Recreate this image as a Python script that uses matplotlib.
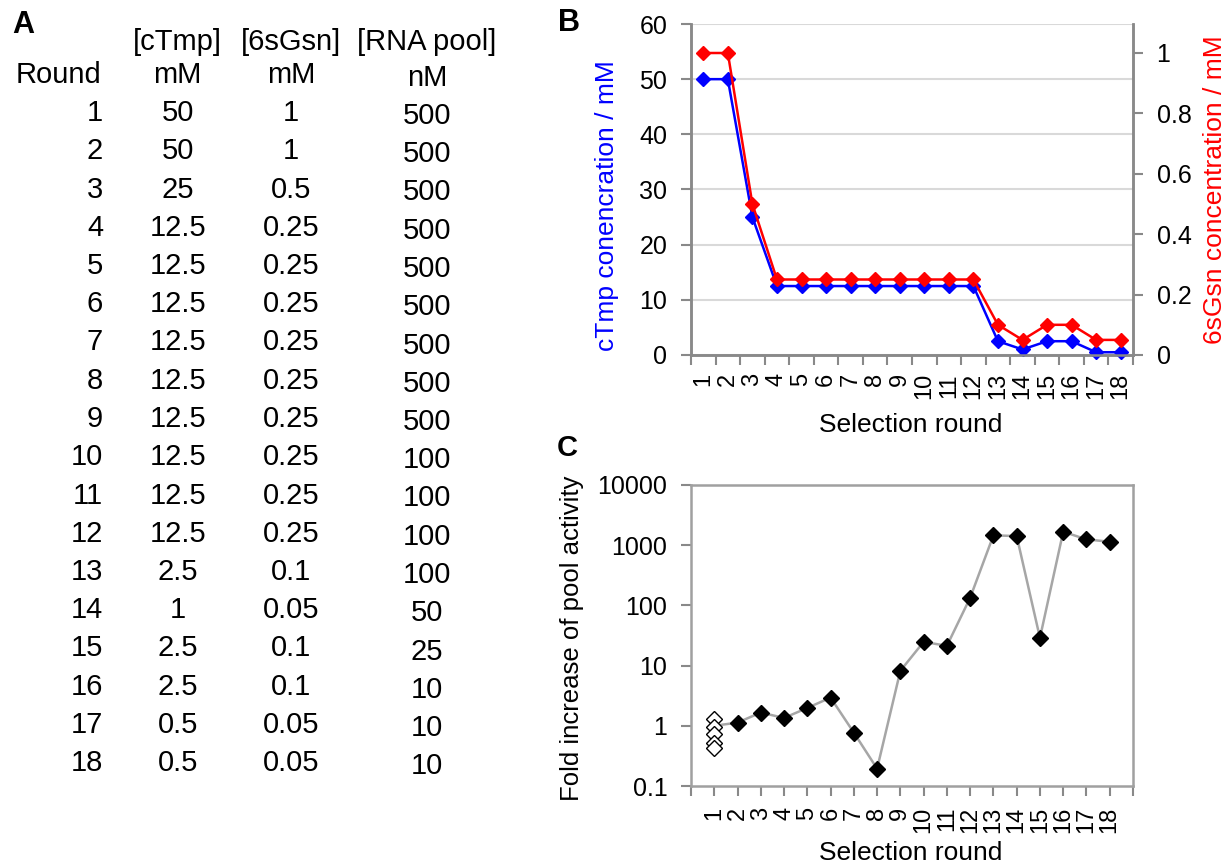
import numpy as np
import matplotlib
matplotlib.use("Agg")
import matplotlib.pyplot as plt
from matplotlib.ticker import FixedLocator, NullLocator, FuncFormatter

plt.rcParams['font.family'] = ['Liberation Sans', 'DejaVu Sans']

# selection conditions per round
rounds = list(range(1, 19))
ctmp_mM = [50, 50, 25, 12.5, 12.5, 12.5, 12.5, 12.5, 12.5, 12.5, 12.5, 12.5, 2.5, 1, 2.5, 2.5, 0.5, 0.5]
sgsn_mM = [1, 1, 0.5, 0.25, 0.25, 0.25, 0.25, 0.25, 0.25, 0.25, 0.25, 0.25, 0.1, 0.05, 0.1, 0.1, 0.05, 0.05]
rna_pool_nM = [500, 500, 500, 500, 500, 500, 500, 500, 500, 100, 100, 100, 100, 50, 25, 10, 10, 10]

# fold increase of pool activity
fold_increase = [1.0, 1.13, 1.66, 1.35, 1.98, 2.94, 0.77, 0.194, 8.2, 24.8, 21.3, 134,
                 1456, 1419, 28.9, 1675, 1248, 1142]
round1_replicates = [1.32, 0.96, 0.74, 0.52, 0.42]

W, H = 1230, 865
fig = plt.figure(figsize=(W / 100, H / 100), dpi=100)


def fx(x):
    return x / W


def fy(y):
    return 1 - y / H


GRAY = '#898989'
TICK_FS = 18

# ---------------- panel A: table ----------------
TS = 21
fig.text(fx(12), fy(25), 'A', fontsize=22, fontweight='bold', ha='left', va='center')
fig.text(fx(177), fy(42), '[cTmp]', fontsize=TS, ha='center', va='center')
fig.text(fx(291), fy(42), '[6sGsn]', fontsize=TS, ha='center', va='center')
fig.text(fx(427), fy(42), '[RNA pool]', fontsize=TS, ha='center', va='center')
fig.text(fx(58), fy(75), 'Round', fontsize=TS, ha='center', va='center')
fig.text(fx(177), fy(75), 'mM', fontsize=TS, ha='center', va='center')
fig.text(fx(291), fy(75), 'mM', fontsize=TS, ha='center', va='center')
fig.text(fx(427), fy(78), 'nM', fontsize=TS, ha='center', va='center')
for i, r in enumerate(rounds):
    y = 113 + 38.25 * i
    fig.text(fx(103), fy(y), str(r), fontsize=TS, ha='right', va='center')
    fig.text(fx(178), fy(y), f'{ctmp_mM[i]:g}', fontsize=TS, ha='center', va='center')
    fig.text(fx(291), fy(y), f'{sgsn_mM[i]:g}', fontsize=TS, ha='center', va='center')
    fig.text(fx(427), fy(y + 3), f'{rna_pool_nM[i]:g}', fontsize=TS, ha='center', va='center')

# ---------------- panel B ----------------
axL, axR_px = 691, 1133
axB = fig.add_axes([fx(axL), fy(355), (axR_px - axL) / W, (355 - 24) / H])
axB2 = axB.twinx()

axB.plot(rounds, ctmp_mM, color='#0000ff', lw=1.8, marker='D', ms=7.5, zorder=3, clip_on=False)
axB2.plot(rounds, sgsn_mM, color='#ff0000', lw=1.8, marker='D', ms=7.5, zorder=3, clip_on=False)

axB.set_xlim(0.5, 18.5)
axB.set_ylim(0, 60)
axB2.set_ylim(0, 331 / 302)
axB.set_yticks(range(0, 61, 10))
axB2.set_yticks([0, 0.2, 0.4, 0.6, 0.8, 1])
axB2.yaxis.set_major_formatter(FuncFormatter(lambda v, p: f'{v:g}'))
axB.yaxis.grid(True, color='#d9d9d9', lw=1.5)
axB.set_axisbelow(True)

axB.xaxis.set_major_locator(FixedLocator(np.arange(0.5, 18.6, 1)))
axB.xaxis.set_minor_locator(FixedLocator(rounds))
axB.set_xticklabels([])
axB.set_xticklabels([str(r) for r in rounds], minor=True, rotation=90)
axB.tick_params(axis='x', which='minor', length=0, pad=13, labelsize=17)
axB.tick_params(axis='x', which='major', length=7, width=1.5, color=GRAY)
axB.tick_params(axis='y', length=7, width=1.5, color=GRAY, pad=10, labelsize=TICK_FS)
axB2.tick_params(axis='y', length=7, width=1.5, color=GRAY, pad=10, labelsize=TICK_FS)

for ax in (axB, axB2):
    ax.spines['top'].set_visible(False)
    for s in ('left', 'right', 'bottom'):
        ax.spines[s].set_color(GRAY)
        ax.spines[s].set_linewidth(1.8)

axB.set_ylabel('cTmp conencration / mM', color='#0000ff', fontsize=19, va='center')
axB.yaxis.set_label_coords(-0.189, 0.45)
axB2.set_ylabel('6sGsn concentration / mM', color='#ff0000', fontsize=19, va='center', rotation=90)
axB2.yaxis.set_label_coords(1.185, 0.5)
axB.set_xlabel('Selection round', fontsize=19, va='center')
axB.xaxis.set_label_coords(0.498, -0.211)
fig.text(fx(558), fy(23), 'B', fontsize=22, fontweight='bold', ha='left', va='center')

# ---------------- panel C ----------------
axC = fig.add_axes([fx(axL), fy(786), (axR_px - axL) / W, (786 - 485) / H])
axC.set_yscale('log')
axC.plot(rounds, fold_increase, color='#a6a6a6', lw=1.8, zorder=2)
axC.plot(rounds[1:], fold_increase[1:], ls='none', marker='D', ms=8.5, color='black', zorder=3)
axC.plot([rounds[0]] * len(round1_replicates), round1_replicates, ls='none', marker='D', ms=8.5,
         mfc='white', mec='black', mew=1.0, zorder=4)

axC.set_xlim(0, 19)
axC.set_ylim(0.1, 10000)
axC.yaxis.set_major_locator(FixedLocator([0.1, 1, 10, 100, 1000, 10000]))
axC.yaxis.set_minor_locator(NullLocator())
axC.yaxis.set_major_formatter(FuncFormatter(lambda v, p: f'{v:g}'))
axC.set_xticks(np.arange(0, 20))
axC.set_xticklabels([''] + [str(r) for r in rounds] + [''], rotation=90)
axC.tick_params(axis='x', length=7, width=1.5, color=GRAY, pad=8, labelsize=17)
axC.tick_params(axis='y', length=7, width=1.5, color=GRAY, pad=10, labelsize=TICK_FS)
for s in axC.spines.values():
    s.set_color('#a0a0a0')
    s.set_linewidth(1.8)

axC.set_ylabel('Fold increase of pool activity', fontsize=18.5, va='center')
axC.yaxis.set_label_coords(-0.27, 0.492)
axC.set_xlabel('Selection round', fontsize=19, va='center')
axC.xaxis.set_label_coords(0.498, -0.222)
fig.text(fx(557), fy(448), 'C', fontsize=21, fontweight='bold', ha='left', va='center')

fig.savefig('out.png', dpi=100)
